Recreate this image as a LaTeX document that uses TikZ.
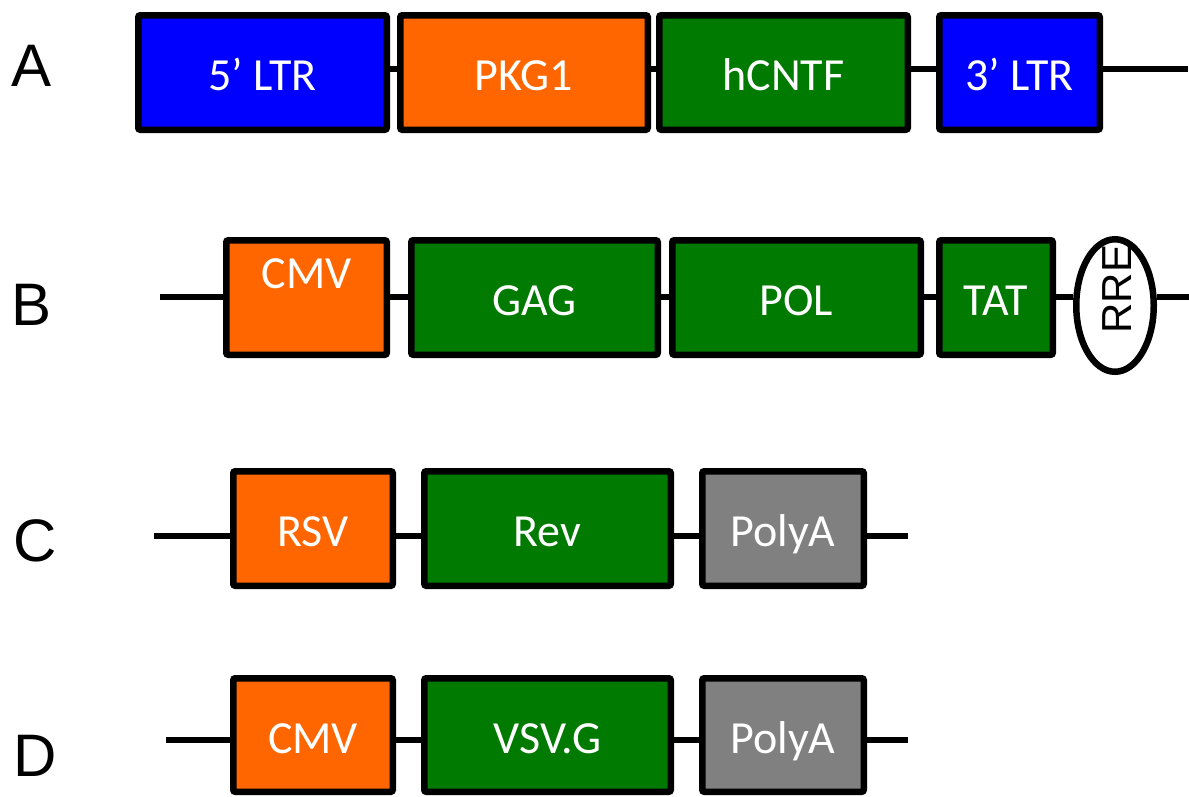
\documentclass[tikz,border=0pt]{standalone}
\usepackage{fontspec}
\setmainfont{Liberation Sans}
\newfontfamily\calib{Carlito}
\usetikzlibrary{shapes.geometric,shadows}
\definecolor{ltrblue}{HTML}{0000FF}
\definecolor{promorange}{HTML}{FF6600}
\definecolor{genegreen}{HTML}{007A00}
\definecolor{polygray}{HTML}{808080}
\begin{document}
\begin{tikzpicture}[x=1pt,y=-1pt,
  seg/.style={draw=black, line width=6.5pt, rounded corners=2pt, inner sep=0pt,
    text=white, font=\calib\fontsize{46}{50}\selectfont,
    text height=41pt, text depth=5pt, minimum height=114.5pt,
    drop shadow={shadow xshift=0pt, shadow yshift=-3pt, opacity=0.18}},
  conn/.style={draw=black, line width=6.5pt},
  letter/.style={font=\fontsize{60}{62}\selectfont, inner sep=0pt},
  rrestyle/.style={ellipse, draw=black, fill=white, line width=6.5pt, inner sep=0pt,
    minimum width=77.5pt, minimum height=132.5pt,
    drop shadow={shadow xshift=0pt, shadow yshift=-3pt, opacity=0.18}},
]
\path[fill=white, use as bounding box] (0,0) rectangle (1189,796);

% letters
\node[letter] (la) at (32,66) {A};
\node[letter] (lb) at (32,305) {B};
\node[letter] (lc) at (35,541) {C};
\node[letter] (ld) at (35,756) {D};

% row A
\node[seg, fill=ltrblue,    minimum width=248.5pt] (a1) at (262.5,72.5) {5’ LTR};
\node[seg, fill=promorange, minimum width=247.5pt] (a2) at (524,72.5) {PKG1};
\node[seg, fill=genegreen,  minimum width=248.5pt] (a3) at (783.5,72.5) {hCNTF};
\node[seg, fill=ltrblue,    minimum width=160.5pt] (a4) at (1019.5,72.5) {3’ LTR};
\coordinate (ya) at (0,69);
\coordinate (aend) at (1188,69);
\draw[conn] (a1.east |- ya) -- (a2.west |- ya);
\draw[conn] (a2.east |- ya) -- (a3.west |- ya);
\draw[conn] (a3.east |- ya) -- (a4.west |- ya);
\draw[conn] (a4.east |- ya) -- (aend);

% row B
\coordinate (yb) at (0,297);
\coordinate (bstart) at (160,297);
\coordinate (bend) at (1189,297);
\node[seg, fill=promorange, minimum width=160.5pt, text height=31pt, text depth=50pt] (b1) at (306.5,297.5) {CMV};
\node[seg, fill=genegreen,  minimum width=246.5pt] (b2) at (534.5,297.5) {GAG};
\node[seg, fill=genegreen,  minimum width=248.5pt] (b3) at (796.5,297.5) {POL};
\node[seg, fill=genegreen,  minimum width=113.5pt] (b4) at (996,297.5) {TAT};
\node[rrestyle] (rre) at (1115,305.5) {};
\node[font=\fontsize{42}{44}\selectfont, rotate=90, inner sep=0pt] (rretxt) at (1117,289) {RRE};
\draw[conn] (bstart) -- (b1.west |- yb);
\draw[conn] (b1.east |- yb) -- (b2.west |- yb);
\draw[conn] (b2.east |- yb) -- (b3.west |- yb);
\draw[conn] (b3.east |- yb) -- (b4.west |- yb);
\draw[conn] (b4.east |- yb) -- (rre.west |- yb);
\draw[conn] (rre.east |- yb) -- (bend);

% row C
\coordinate (yc) at (0,536);
\coordinate (cstart) at (154,536);
\coordinate (cend) at (908,536);
\node[seg, fill=promorange, minimum width=159.5pt] (c1) at (313,528.5) {RSV};
\node[seg, fill=genegreen,  minimum width=246.5pt] (c2) at (547.5,528.5) {Rev};
\node[seg, fill=polygray,   minimum width=161.5pt] (c3) at (783,528.5) {PolyA};
\draw[conn] (cstart) -- (c1.west |- yc);
\draw[conn] (c1.east |- yc) -- (c2.west |- yc);
\draw[conn] (c2.east |- yc) -- (c3.west |- yc);
\draw[conn] (c3.east |- yc) -- (cend);

% row D
\coordinate (yd) at (0,740);
\coordinate (dstart) at (166,740);
\coordinate (dend) at (908,740);
\node[seg, fill=promorange, minimum width=159.5pt, minimum height=113.5pt] (d1) at (313,735) {CMV};
\node[seg, fill=genegreen,  minimum width=246.5pt, minimum height=113.5pt] (d2) at (547.5,735) {VSV.G};
\node[seg, fill=polygray,   minimum width=161.5pt, minimum height=113.5pt] (d3) at (783,735) {PolyA};
\draw[conn] (dstart) -- (d1.west |- yd);
\draw[conn] (d1.east |- yd) -- (d2.west |- yd);
\draw[conn] (d2.east |- yd) -- (d3.west |- yd);
\draw[conn] (d3.east |- yd) -- (dend);
\end{tikzpicture}
\end{document}
